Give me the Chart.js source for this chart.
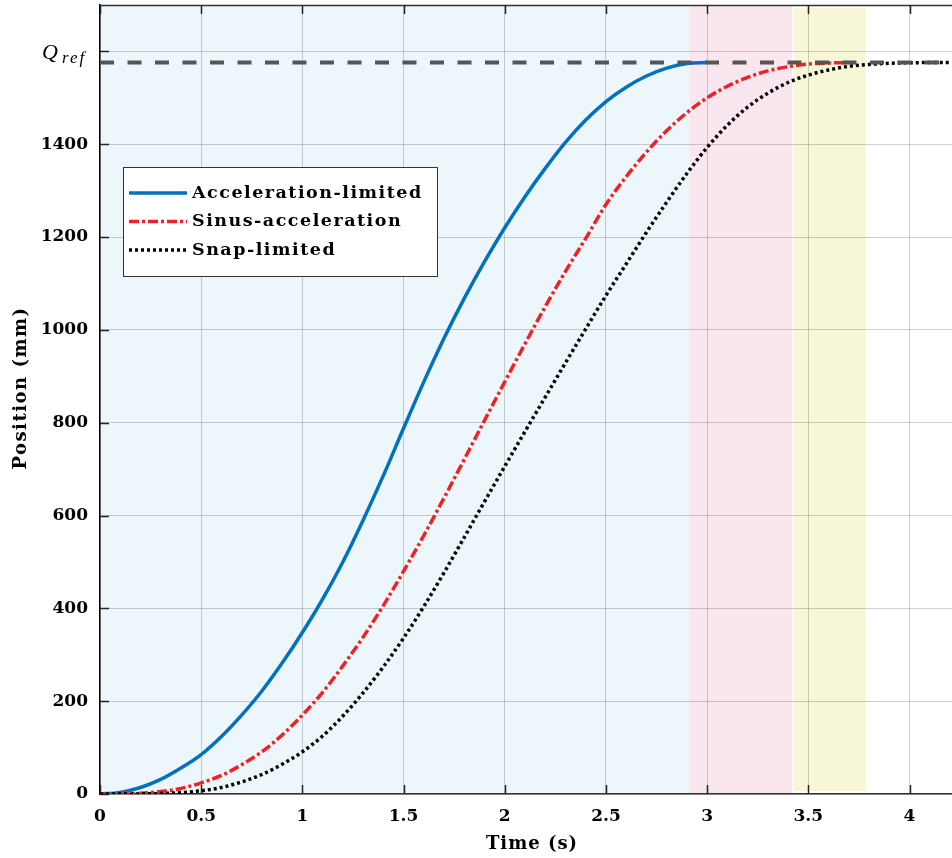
<!DOCTYPE html>
<html><head><meta charset="utf-8">
<script src="https://cdn.jsdelivr.net/npm/chart.js@4.4.0/dist/chart.umd.min.js"></script>
<style>html,body{margin:0;padding:0;background:#fff}#wrap{width:952px;height:858px}</style>
</head><body><div id="wrap"><canvas id="c" width="952" height="858"></canvas></div>
<script>
// ---- data ----
const timeGrid = [0,0.1,0.2,0.3,0.4,0.5,0.6,0.7,0.8,0.9,1.0,1.1,1.2,1.3,1.4,1.5,1.6,1.7,1.8,1.9,2.0,2.1,2.2,2.3,2.4,2.5,2.6,2.7,2.8,2.9,3.0,3.1,3.2,3.3,3.4,3.5,3.6,3.7,3.8,3.9,4.0,4.1,4.2];
const accelLimited = [0,3.5,14,31.5,56,85,124,170,222,282,348,420,500,590,686,788,888,982,1068,1147,1220,1287,1348,1404,1452,1492,1523,1547,1564,1574,1576];
const sinusAccel = [0,0.2,1.6,5.2,12,24,40,63,91,127,170,219,276,338,406,480,557,638,721,805,888,970,1050,1126,1197,1270,1330,1383,1429,1468,1500,1525,1544,1558,1567,1573,1575,1576];
const snapLimited = [0,0,0.3,1,3,7,14,26,42,64,91,125,168,218,274,336,404,477,553,630,706,781,855,929,1002,1074,1142,1210,1275,1337,1393,1441,1480,1510,1533,1549,1560,1568,1572,1574.5,1575.5,1576,1576];
const seriesLabels = ['Acceleration-limited','Sinus-acceleration','Snap-limited'];
const qRef = 1576;
const xMin = 0, xMax = 4.21;
const yMin = 0, yMax = 1700;
const xTickValues = [0,0.5,1,1.5,2,2.5,3,3.5,4];
const yTickValues = [0,200,400,600,800,1000,1200,1400,1600];
const qRefTick = 1600;
const regionStart = [0, 2.915, 3.427];
const regionEnd = [2.915, 3.42, 3.783];

const toPts = (vals) => vals.map((v,i)=>({x:timeGrid[i], y:v}));
const refLineTimes = [xMin, xMax];

const SERIF = '"DejaVu Serif", serif';
const regionColors = ['rgb(237,246,250)','rgb(250,230,238)','rgb(247,247,216)'];

const bgPlugin = {
  id:'bg',
  beforeDraw(chart){
    const {ctx, chartArea:a, scales:{x}} = chart;
    ctx.save();
    ctx.fillStyle='#fff'; ctx.fillRect(0,0,chart.width,chart.height);
    regionStart.forEach((s,i)=>{
      const x0 = x.getPixelForValue(s), x1 = x.getPixelForValue(regionEnd[i]);
      const inset = i===2 ? 3 : 0;
      ctx.fillStyle = regionColors[i];
      ctx.fillRect(x0, a.top+inset, x1-x0, a.bottom-a.top-2*inset);
    });
    ctx.restore();
  }
};

const decoPlugin = {
  id:'deco',
  afterDraw(chart){
    const {ctx, chartArea:a, scales:{x,y}} = chart;
    ctx.save();
    // top border
    ctx.strokeStyle='#333'; ctx.lineWidth=1.5;
    ctx.beginPath(); ctx.moveTo(a.left, a.top+0.5); ctx.lineTo(a.right, a.top+0.5); ctx.stroke();
    // inward ticks
    ctx.strokeStyle='#222'; ctx.lineWidth=1.5;
    xTickValues.forEach(v=>{
      const px = Math.round(x.getPixelForValue(v))+0.5;
      ctx.beginPath(); ctx.moveTo(px,a.bottom); ctx.lineTo(px,a.bottom-9); ctx.stroke();
      ctx.beginPath(); ctx.moveTo(px,a.top); ctx.lineTo(px,a.top+9); ctx.stroke();
    });
    yTickValues.forEach(v=>{
      const py = Math.round(y.getPixelForValue(v))+0.5;
      ctx.beginPath(); ctx.moveTo(a.left,py); ctx.lineTo(a.left+9,py); ctx.stroke();
    });
    // Q_ref tick label
    const qy = y.getPixelForValue(qRefTick);
    ctx.fillStyle='#000';
    ctx.textBaseline='alphabetic';
    ctx.font='italic 22px "Liberation Serif", serif';
    ctx.textAlign='left';
    ctx.fillText('Q', 42, qy+8);
    ctx.font='italic 17px "Liberation Serif", serif';
    ctx.letterSpacing='2px';
    ctx.fillText('ref', 62, qy+12);
    // axis titles
    ctx.font='bold 18px '+SERIF;
    ctx.letterSpacing='1px';
    ctx.textAlign='center'; ctx.textBaseline='middle';
    ctx.fillText('Time (s)', 532, 844);
    ctx.save();
    ctx.letterSpacing='1.5px';
    ctx.translate(21, 388); ctx.rotate(-Math.PI/2);
    ctx.fillText('Position (mm)', 0, 0);
    ctx.restore();
    ctx.letterSpacing='0px';
    // legend
    const bx=123, by=167, bw=314, bh=109;
    ctx.fillStyle='#fff'; ctx.fillRect(bx,by,bw,bh);
    ctx.strokeStyle='#333'; ctx.lineWidth=1; ctx.strokeRect(bx+0.5,by+0.5,bw,bh);
    const rows=[193,221.5,250];
    const sets = chart.data.datasets.filter(d=>!d.hideInLegend);
    sets.forEach((d,i)=>{
      ctx.strokeStyle=d.borderColor; ctx.lineWidth=d.borderWidth;
      ctx.setLineDash(d.borderDash||[]);
      ctx.beginPath(); ctx.moveTo(129,rows[i]); ctx.lineTo(187,rows[i]); ctx.stroke();
      ctx.setLineDash([]);
      ctx.fillStyle='#000'; ctx.font='bold 17.5px '+SERIF;
      ctx.letterSpacing='1.5px';
      ctx.textAlign='left'; ctx.textBaseline='middle';
      ctx.fillText(d.label, 192, rows[i]);
      ctx.letterSpacing='0px';
    });
    ctx.restore();
  }
};

new Chart(document.getElementById('c'), {
  type:'line',
  data:{
    datasets:[
      {label:'Q_ref', hideInLegend:true, data:refLineTimes.map(t=>({x:t,y:qRef})), borderColor:'#555', borderWidth:4, borderDash:[14,13.5], pointRadius:0, order:0},
      {label:seriesLabels[0], data:toPts(accelLimited), borderColor:'#0072BD', borderWidth:3.5, pointRadius:0, cubicInterpolationMode:'monotone', order:3},
      {label:seriesLabels[1], data:toPts(sinusAccel), borderColor:'rgb(238,34,38)', borderWidth:3.5, borderDash:[10,3,3,3], pointRadius:0, cubicInterpolationMode:'monotone', order:2},
      {label:seriesLabels[2], data:toPts(snapLimited), borderColor:'#000', borderWidth:3.5, borderDash:[3,3], pointRadius:0, cubicInterpolationMode:'monotone', order:1}
    ]
  },
  options:{
    responsive:false, animation:false, devicePixelRatio:1,
    layout:{padding:{top:5,right:0,left:0,bottom:0}},
    plugins:{legend:{display:false}, tooltip:{enabled:false}},
    scales:{
      x:{type:'linear', min:xMin, max:xMax,
        afterBuildTicks:ax=>{ax.ticks=xTickValues.map(v=>({value:v}));},
        afterFit:ax=>{ax.height=64; ax.paddingLeft=0; ax.paddingRight=0;},
        ticks:{font:{family:SERIF, weight:'bold', size:17}, color:'#000', padding:12, maxRotation:0, autoSkip:false,
          callback:v=>String(v)},
        grid:{color:'rgba(0,0,0,0.18)', lineWidth:1, drawTicks:false},
        border:{color:'#333', width:1.5}
      },
      y:{type:'linear', min:yMin, max:yMax,
        afterBuildTicks:ax=>{ax.ticks=yTickValues.map(v=>({value:v}));},
        afterFit:ax=>{ax.width=100; ax.paddingTop=0; ax.paddingBottom=0;},
        ticks:{font:{family:SERIF, weight:'bold', size:17}, color:'#000', padding:12, autoSkip:false,
          callback:v=>v===qRefTick?'':String(v)},
        grid:{color:'rgba(0,0,0,0.18)', lineWidth:1, drawTicks:false},
        border:{color:'#000', width:1.5}
      }
    }
  },
  plugins:[bgPlugin, decoPlugin]
});
</script></body></html>
